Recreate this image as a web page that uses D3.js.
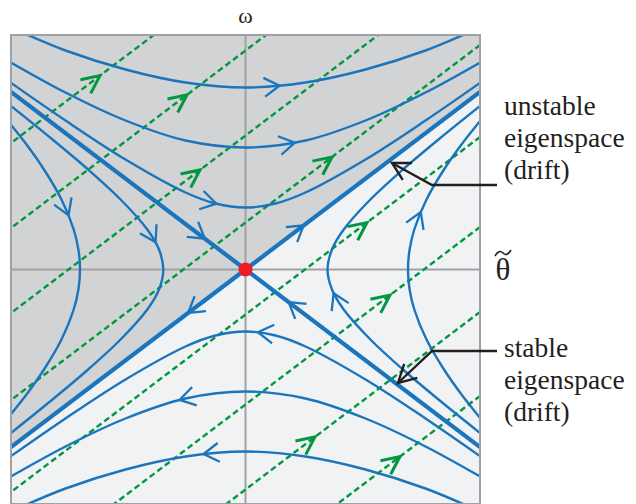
<!DOCTYPE html>
<html lang="en">
<head>
<meta charset="UTF-8">
<title>Saddle phase portrait</title>
<script src="https://cdn.jsdelivr.net/npm/d3@7"></script>
<style>
  body { margin: 0; background: #fff; }
  text { font-family: "Liberation Serif", "Times New Roman", serif; fill: #231f20; }
</style>
</head>
<body>
<svg id="chart" width="636" height="504"></svg>
<script>
// ---- data (theta on x, omega on y) ----
const thetaDomain = [-2.345, 2.345];
const omegaDomain = [-2.345, 2.345];
const eigenSlope = 0.757;            // omega / theta along the eigenlines
const eigenEnd = 2.345;

// green drift lines, omega at theta = 0, and where the arrow sits
const driftIntercepts = [3.04, 2.19, 1.34, 0.47, -0.45, -1.35, -2.2, -3.04];
const driftArrowAt = [-1.455, -0.585, -0.455, 0.865, 1.215, 1.445, 0.695, 1.545];

// trajectories, points listed in the direction of the flow
const trajTop1 = [[-2.3, 2.40], [-1.8, 2.19], [-1.2, 2.0], [-0.6, 1.87], [0, 1.82], [0.6, 1.87], [1.2, 2.0], [1.8, 2.19], [2.3, 2.40]];
const trajTop2 = [[-2.45, 2.13], [-1.8, 1.77], [-1.2, 1.49], [-0.6, 1.29], [0, 1.22], [0.6, 1.29], [1.2, 1.49], [1.8, 1.77], [2.45, 2.13]];
const trajTop3 = [[-2.45, 1.94], [-1.8, 1.49], [-1.2, 1.10], [-0.6, 0.77], [-0.3, 0.66], [0, 0.62], [0.3, 0.66], [0.6, 0.77], [1.2, 1.10], [1.8, 1.49], [2.45, 1.94]];
const trajBot1 = [[2.3, -2.40], [1.8, -2.19], [1.2, -2.0], [0.6, -1.87], [0, -1.82], [-0.6, -1.87], [-1.2, -2.0], [-1.8, -2.19], [-2.3, -2.40]];
const trajBot2 = [[2.45, -2.13], [1.8, -1.77], [1.2, -1.49], [0.6, -1.29], [0, -1.22], [-0.6, -1.29], [-1.2, -1.49], [-1.8, -1.77], [-2.45, -2.13]];
const trajBot3 = [[2.45, -1.94], [1.8, -1.49], [1.2, -1.10], [0.6, -0.77], [0.3, -0.66], [0, -0.62], [-0.3, -0.66], [-0.6, -0.77], [-1.2, -1.10], [-1.8, -1.49], [-2.45, -1.94]];
const trajLeft1 = [[-2.43, 1.55], [-2.19, 1.25], [-2.015, 1.0], [-1.84, 0.7], [-1.718, 0.4], [-1.671, 0.2], [-1.655, 0], [-1.671, -0.2], [-1.718, -0.4], [-1.84, -0.7], [-2.015, -1.0], [-2.19, -1.25], [-2.43, -1.55]];
const trajLeft2 = [[-2.49, 1.75], [-1.93, 1.3], [-1.574, 1.0], [-1.249, 0.7], [-0.982, 0.4], [-0.865, 0.2], [-0.822, 0], [-0.865, -0.2], [-0.982, -0.4], [-1.249, -0.7], [-1.574, -1.0], [-1.93, -1.3], [-2.49, -1.75]];
const trajRight1 = [[2.40, -1.55], [2.16, -1.25], [1.985, -1.0], [1.81, -0.7], [1.688, -0.4], [1.641, -0.2], [1.625, 0], [1.641, 0.2], [1.688, 0.4], [1.81, 0.7], [1.985, 1.0], [2.16, 1.25], [2.40, 1.55]];
const trajRight2 = [[2.49, -1.75], [1.93, -1.3], [1.574, -1.0], [1.249, -0.7], [0.982, -0.4], [0.865, -0.2], [0.82, 0], [0.865, 0.2], [0.982, 0.4], [1.249, 0.7], [1.574, 1.0], [1.93, 1.3], [2.49, 1.75]];
const trajectories = [trajTop1, trajTop2, trajTop3, trajBot1, trajBot2, trajBot3, trajLeft1, trajLeft2, trajRight1, trajRight2];
// approximate spot of each arrowhead, same order
const trajArrowAt = [[0.345, 1.835], [0.495, 1.265], [-0.285, 0.665], [-0.415, -1.855], [-0.655, -1.305], [0.125, -0.635],
                     [-1.755, 0.545], [-0.905, 0.275], [1.745, 0.575], [0.875, -0.235]];

// eigenlines (thick), also in flow direction
const stableIn1 = [[-eigenEnd, eigenSlope * eigenEnd], [0, 0]];
const stableIn2 = [[eigenEnd, -eigenSlope * eigenEnd], [0, 0]];
const unstableOut1 = [[0, 0], [eigenEnd, eigenSlope * eigenEnd]];
const unstableOut2 = [[0, 0], [-eigenEnd, -eigenSlope * eigenEnd]];
const eigenLines = [stableIn1, stableIn2, unstableOut1, unstableOut2];
const eigenArrowAt = [[-0.415, 0.305], [0.425, -0.335], [0.575, 0.445], [-0.575, -0.435]];

// annotation pointers: arrow tip, elbow (data units)
const unstableNote = { tip: [1.465, 1.065], elbow: [1.865, 0.845], lines: ['unstable', 'eigenspace', '(drift)'] };
const stableNote = { tip: [1.525, -1.135], elbow: [1.865, -0.815], lines: ['stable', 'eigenspace', '(drift)'] };

// ---- colours ----
const blue = '#1b75bc', green = '#00973f', ink = '#231f20';

const svg = d3.select('#chart');
const x = d3.scaleLinear().domain(thetaDomain).range([11, 480]);
const y = d3.scaleLinear().domain(omegaDomain).range([504, 35]);
const [x0, x1] = x.range();
const [y1, y0] = y.range();

svg.append('defs').append('clipPath').attr('id', 'plot-clip')
  .append('rect').attr('x', x0).attr('y', y0).attr('width', x1 - x0).attr('height', y1 - y0);

const plot = svg.append('g').attr('clip-path', 'url(#plot-clip)');

// backgrounds
plot.append('rect').attr('x', x0).attr('y', y0).attr('width', x1 - x0).attr('height', y1 - y0).attr('fill', '#f1f2f4');
const grayRegion = [[-eigenEnd, -eigenSlope * eigenEnd], [eigenEnd, eigenSlope * eigenEnd], [eigenEnd, omegaDomain[1]], [-eigenEnd, omegaDomain[1]]];
plot.append('path')
  .attr('d', 'M' + grayRegion.map(d => [x(d[0]), y(d[1])].join(',')).join('L') + 'Z')
  .attr('fill', '#d1d3d4');

// axes through the origin
plot.append('line').attr('x1', x(0)).attr('x2', x(0)).attr('y1', y0).attr('y2', y1)
  .attr('stroke', '#9fa1a4').attr('stroke-width', 2);
plot.append('line').attr('x1', x0).attr('x2', x1).attr('y1', y(0)).attr('y2', y(0))
  .attr('stroke', '#9fa1a4').attr('stroke-width', 2);

function chevron(g, px, py, dx, dy, len, half, color, width) {
  const a = Math.atan2(dy, dx);
  const p1 = [px - len * Math.cos(a - half), py - len * Math.sin(a - half)];
  const p2 = [px - len * Math.cos(a + half), py - len * Math.sin(a + half)];
  g.append('path')
    .attr('d', 'M' + p1.join(',') + 'L' + px + ',' + py + 'L' + p2.join(','))
    .attr('fill', 'none').attr('stroke', color).attr('stroke-width', width)
    .attr('stroke-linejoin', 'miter').attr('stroke-miterlimit', 10);
}

// drift lines
const driftG = plot.append('g');
driftIntercepts.forEach((c, i) => {
  driftG.append('line')
    .attr('x1', x(-2.7)).attr('y1', y(c - eigenSlope * 2.7))
    .attr('x2', x(2.7)).attr('y2', y(c + eigenSlope * 2.7))
    .attr('stroke', green).attr('stroke-width', 2.4).attr('stroke-dasharray', '6,3.5');
  const t = driftArrowAt[i];
  const px = x(t), py = y(c + eigenSlope * t);
  const dx = x(1) - x(0), dy = y(eigenSlope) - y(0);
  chevron(driftG, px, py, dx, dy, 20, 0.44, green, 3);
});

// trajectories
const lineGen = d3.line().x(d => x(d[0])).y(d => y(d[1])).curve(d3.curveCatmullRom.alpha(0.5));
const trajG = plot.append('g');

function arrowOnPath(pathNode, target, len, half, width) {
  const total = pathNode.getTotalLength();
  const tx = x(target[0]), ty = y(target[1]);
  let best = 0, bestD = Infinity;
  for (let l = 0; l <= total; l += 1) {
    const p = pathNode.getPointAtLength(l);
    const d = (p.x - tx) ** 2 + (p.y - ty) ** 2;
    if (d < bestD) { bestD = d; best = l; }
  }
  const p = pathNode.getPointAtLength(best);
  const a = pathNode.getPointAtLength(Math.max(0, best - 3));
  const b = pathNode.getPointAtLength(Math.min(total, best + 3));
  chevron(trajG, p.x, p.y, b.x - a.x, b.y - a.y, len, half, blue, width);
}

trajectories.forEach((pts, i) => {
  const path = trajG.append('path').attr('d', lineGen(pts))
    .attr('fill', 'none').attr('stroke', blue).attr('stroke-width', 2.4);
  arrowOnPath(path.node(), trajArrowAt[i], 18, 0.55, 2.3);
});

eigenLines.forEach((pts, i) => {
  const path = trajG.append('path').attr('d', d3.line().x(d => x(d[0])).y(d => y(d[1]))(pts))
    .attr('fill', 'none').attr('stroke', blue).attr('stroke-width', 4.2);
  arrowOnPath(path.node(), eigenArrowAt[i], 18, 0.55, 2.3);
});

// equilibrium
svg.append('circle').attr('cx', x(0)).attr('cy', y(0)).attr('r', 7).attr('fill', '#ed1c24');

// frame
svg.append('rect').attr('x', x0).attr('y', y0).attr('width', x1 - x0).attr('height', y1 - y0)
  .attr('fill', 'none').attr('stroke', '#9fa1a4').attr('stroke-width', 2);

// axis labels
svg.append('text').attr('x', x(0)).attr('y', 23).attr('text-anchor', 'middle')
  .attr('font-size', 22).text('ω');
svg.append('text').attr('x', x1 + 23).attr('y', 280).attr('text-anchor', 'middle')
  .attr('font-size', 31).text('θ');
// tilde over theta
svg.append('path')
  .attr('d', 'M' + (x1 + 15) + ',256 Q' + (x1 + 19) + ',249 ' + (x1 + 23) + ',253 T' + (x1 + 31) + ',250')
  .attr('fill', 'none').attr('stroke', ink).attr('stroke-width', 1.6);

// annotations
[[unstableNote, 115], [stableNote, 357]].forEach(([note, base]) => {
  const tip = [x(note.tip[0]), y(note.tip[1])];
  const elbow = [x(note.elbow[0]), y(note.elbow[1])];
  svg.append('path')
    .attr('d', 'M' + tip.join(',') + 'L' + elbow.join(',') + 'L' + (x1 + 17) + ',' + elbow[1])
    .attr('fill', 'none').attr('stroke', ink).attr('stroke-width', 2.4);
  chevron(svg, tip[0], tip[1], tip[0] - elbow[0], tip[1] - elbow[1], 20, 0.5, ink, 2.4);
  const t = svg.append('text').attr('x', x1 + 24).attr('y', base).attr('font-size', 27.5);
  note.lines.forEach((s, k) => {
    t.append('tspan').attr('x', x1 + 24).attr('dy', k === 0 ? 0 : 32).text(s);
  });
});
</script>
</body>
</html>
